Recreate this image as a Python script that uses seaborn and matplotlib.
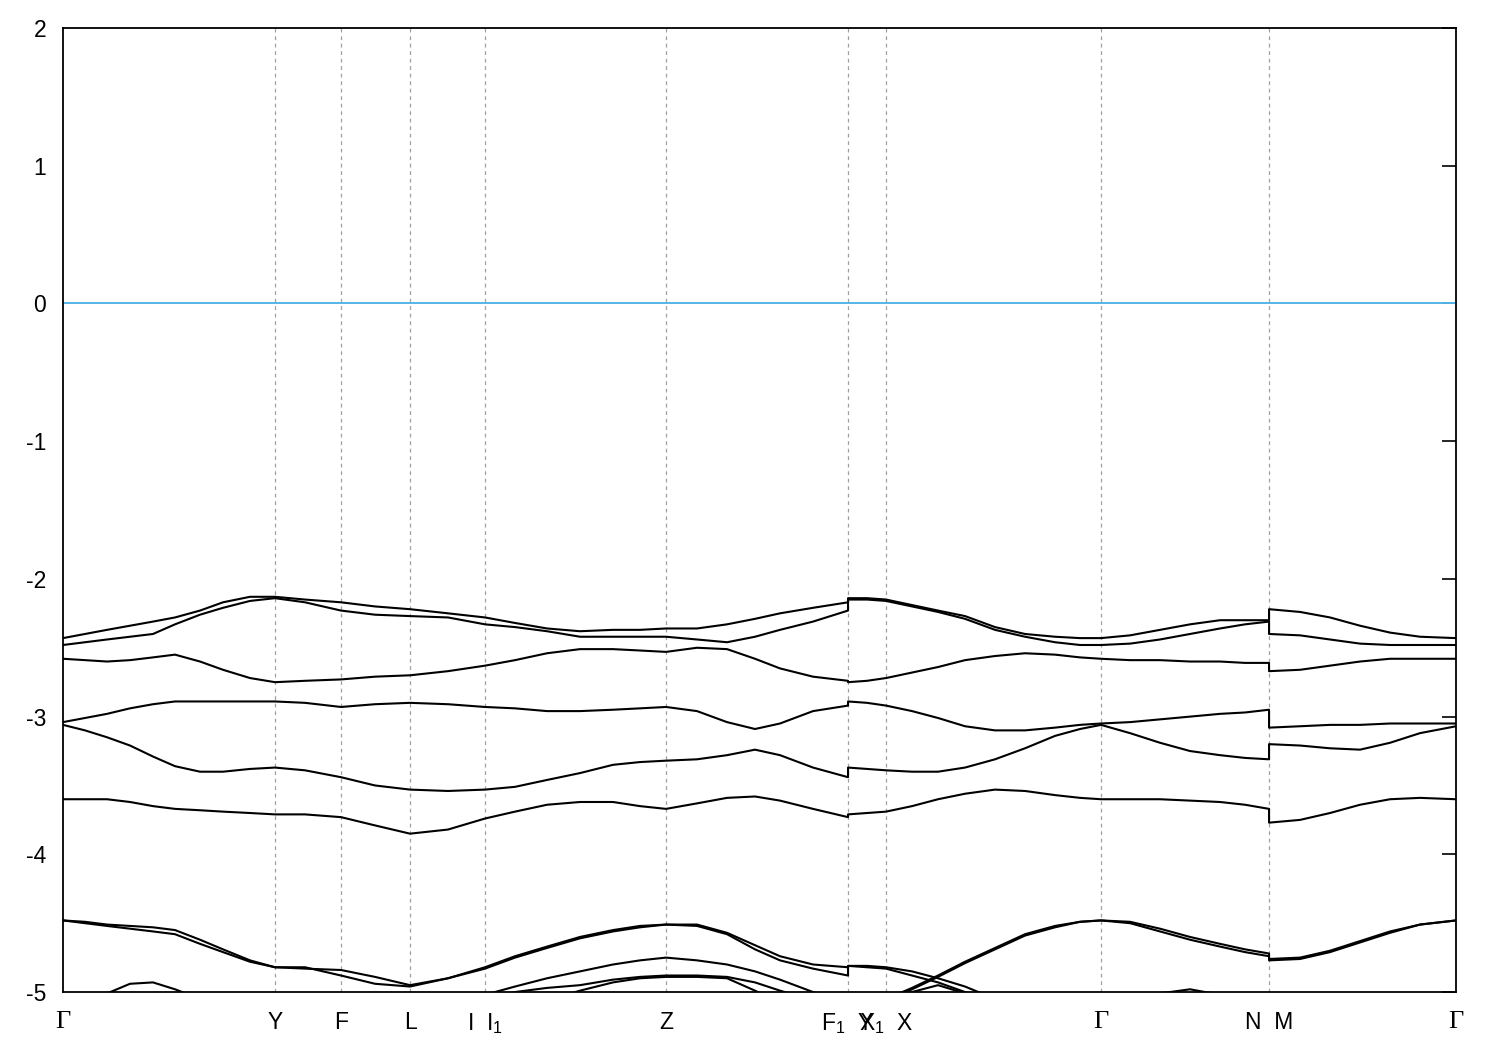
import numpy as np
import pandas as pd
import matplotlib
matplotlib.use("Agg")
import matplotlib.pyplot as plt
import seaborn as sns

# k-path positions (path length units) and high-symmetry points
kpath = [0.000, 0.022, 0.044, 0.067, 0.090, 0.112, 0.137, 0.160, 0.187, 0.212,
         0.242, 0.278, 0.312, 0.347, 0.385, 0.422, 0.452, 0.484, 0.517, 0.550,
         0.577, 0.603, 0.634, 0.664, 0.692, 0.717, 0.750, 0.785, 0.785, 0.804,
         0.823, 0.849, 0.875, 0.902, 0.932, 0.962, 0.992, 1.017, 1.038, 1.067,
         1.097, 1.127, 1.157, 1.182, 1.206, 1.206, 1.237, 1.267, 1.297, 1.327,
         1.357, 1.393]

sym_pos = [0.000, 0.212, 0.278, 0.347, 0.422, 0.603, 0.785, 0.823, 1.038, 1.206, 1.393]
sym_labels = ["Γ", "Y", "F", "L", "I  I$_1$", "Z", "F$_1$  Y", "X$_1$  X", "Γ", "N  M", "Γ"]

# band energies (eV), one value per k point
band1 = [-2.43, -2.40, -2.37, -2.34, -2.31, -2.28, -2.23, -2.17, -2.13, -2.13,
         -2.15, -2.17, -2.20, -2.22, -2.25, -2.28, -2.32, -2.36, -2.38, -2.37,
         -2.37, -2.36, -2.36, -2.33, -2.29, -2.25, -2.21, -2.17, -2.14, -2.14,
         -2.15, -2.19, -2.23, -2.27, -2.35, -2.40, -2.42, -2.43, -2.43, -2.41,
         -2.37, -2.33, -2.30, -2.30, -2.30, -2.22, -2.24, -2.28, -2.34, -2.39,
         -2.42, -2.43]
band2 = [-2.48, -2.46, -2.44, -2.42, -2.40, -2.33, -2.26, -2.21, -2.16, -2.14,
         -2.17, -2.23, -2.26, -2.27, -2.28, -2.33, -2.35, -2.38, -2.42, -2.42,
         -2.42, -2.42, -2.44, -2.46, -2.42, -2.37, -2.31, -2.23, -2.15, -2.15,
         -2.16, -2.20, -2.24, -2.29, -2.37, -2.42, -2.46, -2.48, -2.48, -2.47,
         -2.44, -2.40, -2.36, -2.33, -2.31, -2.40, -2.41, -2.44, -2.47, -2.48,
         -2.48, -2.48]
band3 = [-2.58, -2.59, -2.60, -2.59, -2.57, -2.55, -2.60, -2.66, -2.72, -2.75,
         -2.74, -2.73, -2.71, -2.70, -2.67, -2.63, -2.59, -2.54, -2.51, -2.51,
         -2.52, -2.53, -2.50, -2.51, -2.58, -2.65, -2.71, -2.74, -2.75, -2.74,
         -2.72, -2.68, -2.64, -2.59, -2.56, -2.54, -2.55, -2.57, -2.58, -2.59,
         -2.59, -2.60, -2.60, -2.61, -2.61, -2.67, -2.66, -2.63, -2.60, -2.58,
         -2.58, -2.58]
band4 = [-3.04, -3.01, -2.98, -2.94, -2.91, -2.89, -2.89, -2.89, -2.89, -2.89,
         -2.90, -2.93, -2.91, -2.90, -2.91, -2.93, -2.94, -2.96, -2.96, -2.95,
         -2.94, -2.93, -2.96, -3.04, -3.09, -3.05, -2.96, -2.92, -2.89, -2.90,
         -2.92, -2.96, -3.01, -3.07, -3.10, -3.10, -3.08, -3.06, -3.05, -3.04,
         -3.02, -3.00, -2.98, -2.97, -2.95, -3.08, -3.07, -3.06, -3.06, -3.05,
         -3.05, -3.05]
band5 = [-3.06, -3.10, -3.15, -3.21, -3.29, -3.36, -3.40, -3.40, -3.38, -3.37,
         -3.39, -3.44, -3.50, -3.53, -3.54, -3.53, -3.51, -3.46, -3.41, -3.35,
         -3.33, -3.32, -3.31, -3.28, -3.24, -3.28, -3.37, -3.44, -3.37, -3.38,
         -3.39, -3.40, -3.40, -3.37, -3.31, -3.23, -3.14, -3.09, -3.06, -3.12,
         -3.19, -3.25, -3.28, -3.30, -3.31, -3.20, -3.21, -3.23, -3.24, -3.19,
         -3.12, -3.07]
band6 = [-3.60, -3.60, -3.60, -3.62, -3.65, -3.67, -3.68, -3.69, -3.70, -3.71,
         -3.71, -3.73, -3.79, -3.85, -3.82, -3.74, -3.69, -3.64, -3.62, -3.62,
         -3.65, -3.67, -3.63, -3.59, -3.58, -3.61, -3.67, -3.73, -3.71, -3.70,
         -3.69, -3.65, -3.60, -3.56, -3.53, -3.54, -3.57, -3.59, -3.60, -3.60,
         -3.60, -3.61, -3.62, -3.64, -3.67, -3.77, -3.75, -3.70, -3.64, -3.60,
         -3.59, -3.60]
band7 = [-4.48, -4.49, -4.51, -4.52, -4.53, -4.55, -4.62, -4.69, -4.77, -4.82,
         -4.83, -4.84, -4.89, -4.95, -4.90, -4.82, -4.74, -4.67, -4.60, -4.55,
         -4.52, -4.51, -4.51, -4.57, -4.66, -4.74, -4.80, -4.82, -4.81, -4.81,
         -4.82, -4.85, -4.90, -4.96, -5.05, -5.12, -5.18, -5.22, -5.25, -5.24,
         -5.20, -5.15, -5.12, -5.14, -5.18, -5.20, -5.22, -5.25, -5.27, -5.28,
         -5.30, -5.30]
band8 = [-4.48, -4.50, -4.52, -4.54, -4.56, -4.58, -4.65, -4.71, -4.78, -4.82,
         -4.82, -4.88, -4.94, -4.96, -4.90, -4.83, -4.75, -4.68, -4.61, -4.56,
         -4.53, -4.51, -4.52, -4.58, -4.69, -4.77, -4.83, -4.88, -4.81, -4.82,
         -4.83, -4.88, -4.93, -5.00, -5.08, -5.15, -5.20, -5.24, -5.27, -5.26,
         -5.22, -5.18, -5.15, -5.17, -5.20, -5.22, -5.25, -5.28, -5.30, -5.31,
         -5.32, -5.32]
band9 = [-5.35, -5.33, -5.30, -5.28, -5.27, -5.26, -5.25, -5.24, -5.22, -5.20,
         -5.20, -5.18, -5.15, -5.12, -5.08, -5.02, -4.96, -4.90, -4.85, -4.80,
         -4.77, -4.75, -4.77, -4.80, -4.85, -4.91, -5.00, -5.08, -5.20, -5.12,
         -5.05, -4.97, -4.88, -4.78, -4.68, -4.58, -4.52, -4.49, -4.48, -4.49,
         -4.54, -4.60, -4.65, -4.69, -4.72, -4.76, -4.75, -4.70, -4.63, -4.56,
         -4.51, -4.48]
band10 = [-5.40, -5.38, -5.36, -5.34, -5.32, -5.30, -5.28, -5.26, -5.24, -5.22,
          -5.20, -5.18, -5.16, -5.14, -5.10, -5.05, -5.00, -4.97, -4.95, -4.91,
          -4.89, -4.88, -4.88, -4.89, -4.93, -4.99, -5.06, -5.12, -5.25, -5.15,
          -5.07, -4.98, -4.89, -4.79, -4.69, -4.59, -4.53, -4.49, -4.48, -4.50,
          -4.56, -4.62, -4.67, -4.71, -4.74, -4.77, -4.76, -4.71, -4.64, -4.57,
          -4.51, -4.48]
band11 = [-5.45, -5.44, -5.42, -5.40, -5.38, -5.36, -5.34, -5.32, -5.30, -5.28,
          -5.26, -5.24, -5.22, -5.20, -5.18, -5.15, -5.12, -5.06, -4.99, -4.93,
          -4.90, -4.89, -4.89, -4.90, -4.99, -5.08, -5.15, -5.20, -5.30, -5.32,
          -5.34, -5.36, -5.38, -5.40, -5.40, -5.40, -5.40, -5.40, -5.40, -5.40,
          -5.40, -5.40, -5.40, -5.40, -5.40, -5.40, -5.40, -5.40, -5.40, -5.40,
          -5.40, -5.40]
band12 = [-5.15, -5.08, -5.01, -4.94, -4.93, -4.98, -5.05, -5.12, -5.18, -5.22,
          -5.25, -5.27, -5.28, -5.30, -5.30, -5.30, -5.30, -5.30, -5.30, -5.30,
          -5.30, -5.30, -5.30, -5.28, -5.25, -5.22, -5.20, -5.18, -5.15, -5.12,
          -5.10, -5.00, -4.95, -5.01, -5.10, -5.15, -5.18, -5.16, -5.12, -5.08,
          -5.01, -4.98, -5.02, -5.08, -5.12, -5.15, -5.18, -5.20, -5.22, -5.22,
          -5.22, -5.22]

bands = [band1, band2, band3, band4, band5, band6, band7, band8,
         band9, band10, band11, band12]

df = pd.concat(
    [pd.DataFrame({"k": kpath, "E": b, "band": i}) for i, b in enumerate(bands)],
    ignore_index=True,
)

sns.set_style("white")
plt.rcParams["font.family"] = ["Liberation Sans", "DejaVu Sans"]
plt.rcParams["mathtext.fontset"] = "custom"
plt.rcParams["mathtext.rm"] = "Liberation Sans"
plt.rcParams["mathtext.it"] = "Liberation Sans"

fig = plt.figure(figsize=(15, 10.5), dpi=100)
ax = fig.add_axes([0.042, 0.0552, 0.9287, 0.9181])

# high-symmetry guide lines
for x in sym_pos[1:-1]:
    ax.axvline(x, color="#a0a0a0", lw=0.9, ls=(0, (3, 3)), zorder=1)
ax.axhline(0, color="#56b4e9", lw=1.4, zorder=2)

sns.lineplot(data=df, x="k", y="E", units="band", estimator=None, sort=False,
             color="black", lw=1.5, ax=ax, zorder=3)

ax.set_xlim(sym_pos[0], sym_pos[-1])
ax.set_ylim(-5, 2)
ax.set_yticks(range(-5, 3))
ax.set_yticklabels([str(v) for v in range(-5, 3)])
ax.set_xticks(sym_pos)
ax.set_xticklabels(sym_labels)
ax.set_xlabel("")
ax.set_ylabel("")

ax.tick_params(axis="both", direction="in", length=10, width=1.2,
               labelsize=16.5, colors="black")
ax.tick_params(axis="y", right=True, pad=12)
ax.tick_params(axis="x", pad=14)
for lbl in ax.get_xticklabels():
    if lbl.get_text() == "Γ":
        lbl.set_fontfamily("Liberation Serif")
        lbl.set_fontsize(19)

for s in ax.spines.values():
    s.set_visible(True)
    s.set_color("black")
    s.set_linewidth(1.3)

fig.savefig("out.png", dpi=100, facecolor="white")
